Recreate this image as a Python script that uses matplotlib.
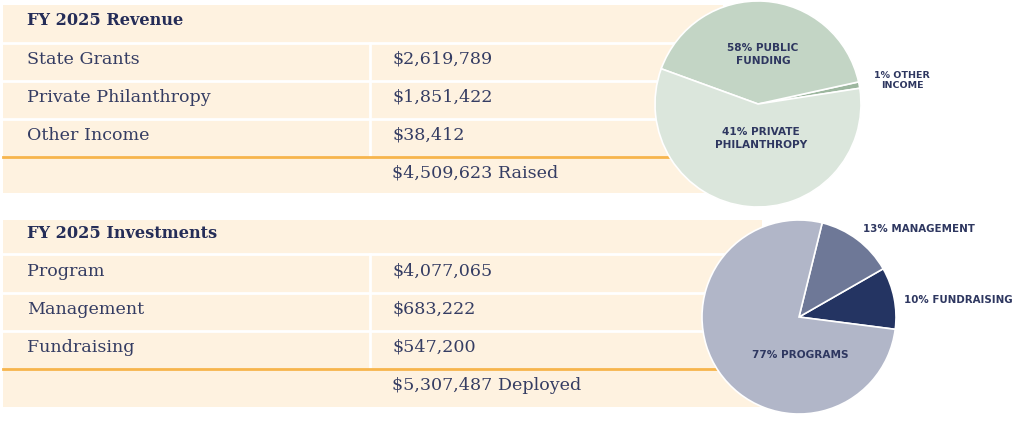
import numpy as np
import matplotlib.pyplot as plt
from matplotlib.patches import Rectangle

# table data
rev_title = "FY 2025 Revenue"
rev_items = ["State Grants", "Private Philanthropy", "Other Income"]
rev_amounts = ["$2,619,789", "$1,851,422", "$38,412"]
rev_total = "$4,509,623 Raised"

inv_title = "FY 2025 Investments"
inv_items = ["Program", "Management", "Fundraising"]
inv_amounts = ["$4,077,065", "$683,222", "$547,200"]
inv_total = "$5,307,487 Deployed"

# pie data (revenue shares as drawn in the picture, counter-clockwise order)
rev_pie_labels = ["1% OTHER\nINCOME", "58% PUBLIC\nFUNDING", "41% PRIVATE\nPHILANTHROPY"]
rev_pie_shares = [1, 41, 58]
inv_pie_labels = ["10% FUNDRAISING", "13% MANAGEMENT", "77% PROGRAMS"]
inv_pie_values = [547200, 683222, 4077065]

W, H = 1024, 441
cream = "#fef2e0"
orange = "#f7b54c"
navy = "#252d58"
text_col = "#353d63"
label_col = "#2e3760"

fig = plt.figure(figsize=(W / 100, H / 100), dpi=100)
ax = fig.add_axes([0, 0, 1, 1])


def Y(y):
    return H - y


def table(row_edges, right, title, items, amounts, total):
    top = row_edges[0]
    ax.add_patch(Rectangle((3, Y(row_edges[-1])), right - 3, row_edges[-1] - top,
                           facecolor=cream, edgecolor="none", zorder=1))
    for ye in row_edges[1:4]:
        ax.plot([3, right], [Y(ye), Y(ye)], color="white", lw=2, zorder=2)
    ax.plot([370, 370], [Y(row_edges[1]), Y(row_edges[4])], color="white", lw=2, zorder=2)
    ax.plot([3, right], [Y(row_edges[4]), Y(row_edges[4])], color=orange, lw=2, zorder=2)
    ax.text(27, Y((row_edges[0] + row_edges[1]) / 2 - 3.5), title, fontsize=11.6, fontweight="bold",
            family="DejaVu Serif", color=navy, va="center", zorder=3)
    for i, (name, amt) in enumerate(zip(items, amounts)):
        yc = Y((row_edges[i + 1] + row_edges[i + 2]) / 2 - 2.5)
        ax.text(27, yc, name, fontsize=12.6, family="DejaVu Serif", color=text_col, va="center", zorder=3)
        ax.text(392, yc, amt, fontsize=12.6, family="DejaVu Serif", color=text_col, va="center", zorder=3)
    ax.text(392, Y((row_edges[4] + row_edges[5]) / 2 - 2.5), total, fontsize=12.6, family="DejaVu Serif",
            color=text_col, va="center", zorder=3)


table([5, 43, 81, 119, 157, 193], 723, rev_title, rev_items, rev_amounts, rev_total)
table([220, 254, 293, 331, 369, 407], 762, inv_title, inv_items, inv_amounts, inv_total)

# revenue pie
w1, _ = ax.pie(rev_pie_shares, center=(758, Y(104)), radius=103, startangle=8.8,
               colors=["#9db79f", "#c3d5c5", "#dbe6dc"], frame=True,
               wedgeprops=dict(edgecolor="white", linewidth=1.2))
# investments pie
w2, _ = ax.pie(inv_pie_values, center=(799, Y(317)), radius=97, startangle=-7.3,
               colors=["#243462", "#6e7897", "#b1b6c8"], frame=True,
               wedgeprops=dict(edgecolor="white", linewidth=1.2))
for w in list(w1) + list(w2):
    w.set_zorder(4)

lab = dict(family="DejaVu Sans", fontweight="bold", color=label_col, ha="center", va="center",
           zorder=5)
ax.text(902, Y(80.5), rev_pie_labels[0], fontsize=6.8, linespacing=1.25, **lab)
ax.text(763, Y(54.5), rev_pie_labels[1], fontsize=7.6, linespacing=1.45, **lab)
ax.text(761, Y(138.5), rev_pie_labels[2], fontsize=7.6, linespacing=1.45, **lab)
ax.text(958, Y(300), inv_pie_labels[0], fontsize=7.4, **lab)
ax.text(919, Y(228.5), inv_pie_labels[1], fontsize=7.4, **lab)
ax.text(800, Y(355), inv_pie_labels[2], fontsize=7.6, **lab)

ax.set_xlim(0, W)
ax.set_ylim(0, H)
ax.set_aspect("equal")
ax.axis("off")

fig.savefig("out.png", dpi=100, facecolor="white")
